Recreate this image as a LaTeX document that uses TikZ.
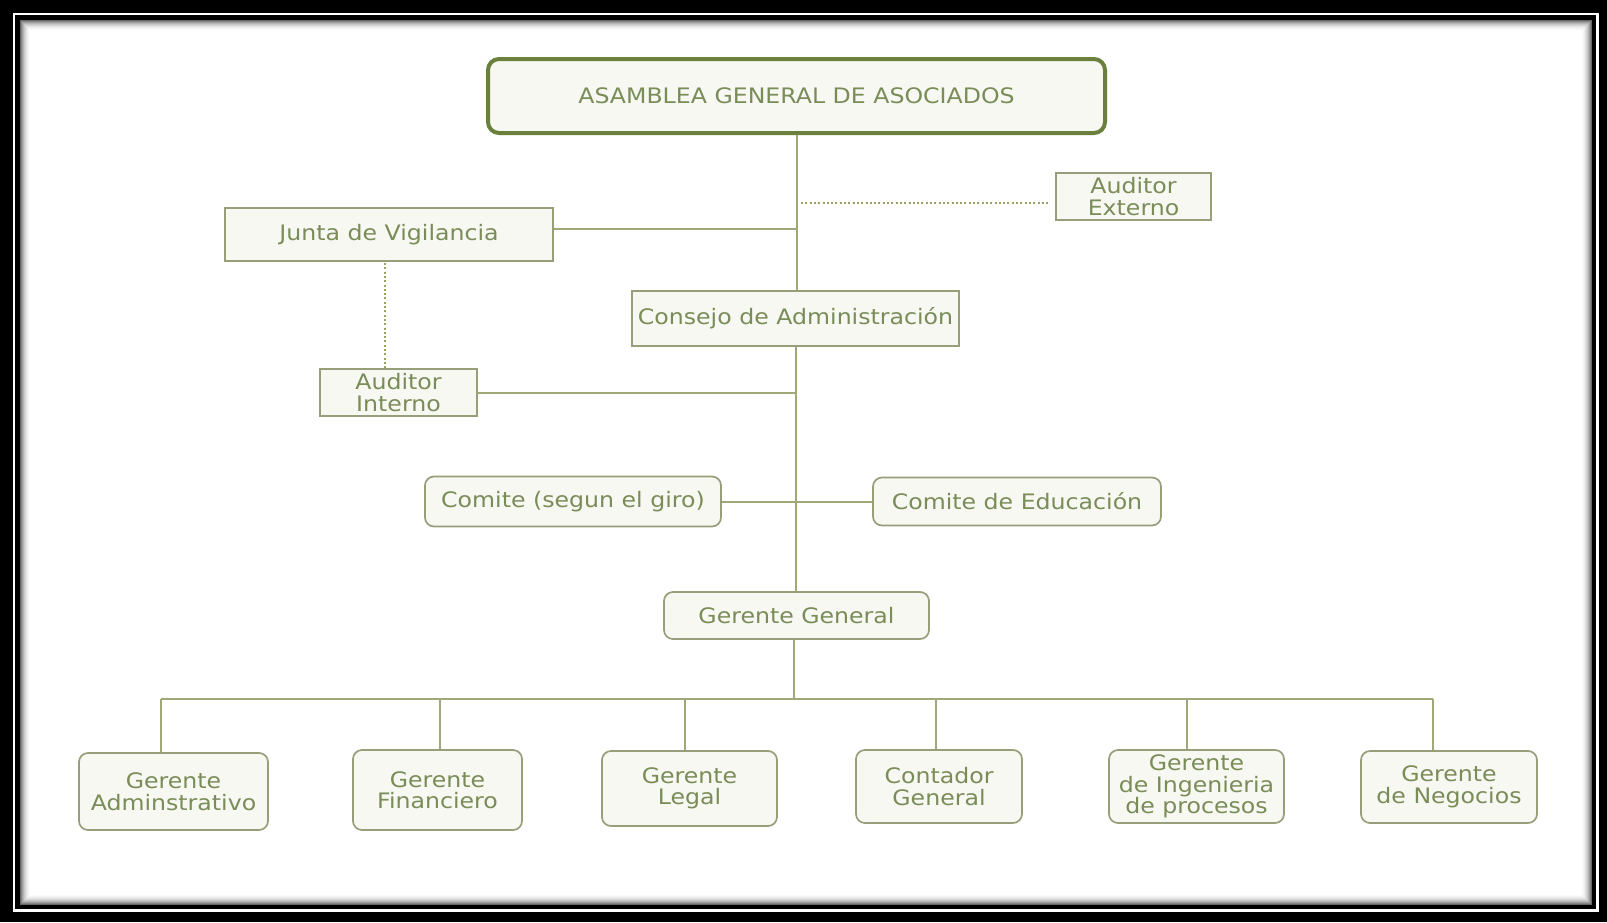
\documentclass[tikz,border=0pt]{standalone}
\usepackage{fontspec}
\setmainfont{DejaVu Sans}[FakeStretch=1.11]
\definecolor{txt}{RGB}{122,140,88}
\definecolor{boxline}{RGB}{150,158,122}
\definecolor{topline}{RGB}{108,128,62}
\definecolor{boxfill}{RGB}{246,248,241}
\definecolor{linkc}{RGB}{160,168,122}
\definecolor{dotc}{RGB}{150,165,100}
\begin{document}
\begin{tikzpicture}[x=1pt,y=-1pt,
  every node/.style={font=\fontsize{21.3}{21.5}\selectfont, text=txt, align=center, inner sep=0pt},
  sq/.style={draw=boxline, line width=1.7pt, fill=boxfill},
  rd/.style={sq, rounded corners=9pt},
  topbox/.style={draw=topline, line width=4pt, fill=boxfill, rounded corners=11pt},
  link/.style={draw=linkc, line width=2pt},
  dots/.style={draw=dotc, line width=2.4pt, dash pattern=on 2pt off 2.3pt}]
\useasboundingbox (0,0) rectangle (1607,922);

% framed page: black band, thin white rule, black rule, shaded inner edge
\fill[black] (0,0) rectangle (1607,922);
\draw[white, line width=2.6pt] (13.8,13.8) rectangle (1597.6,910.3);
\fill[white] (19.5,20) rectangle (1592,904.5);
\foreach \i/\c in {0/60,1/48,2/38,3/29,4/22,5/16,6/11,7/7,8/4,9/2}
  \draw[black!\c, line width=1pt] (20+\i,20.5+\i) rectangle (1591.5-\i,904-\i);

% upper levels
\node[topbox, minimum width=617, minimum height=74] (asm) at (796.5,96) {ASAMBLEA GENERAL DE ASOCIADOS};
\node[sq, minimum width=155, minimum height=47] (aext) at (1133.5,196.5) {Auditor\\Externo};
\node[sq, minimum width=328, minimum height=53] (junta) at (389,234.5) {Junta de Vigilancia};
\node[sq, minimum width=327, minimum height=55] (consejo) at (795.5,318.5) {Consejo de Administración};
\node[sq, minimum width=157, minimum height=47] (aint) at (398.5,392.5) {Auditor\\Interno};
\node[rd, minimum width=296, minimum height=50] (cgiro) at (573,501.5) {Comite (segun el giro)};
\node[rd, minimum width=288, minimum height=48] (cedu) at (1017,501.5) {Comite de Educación};
\node[rd, minimum width=265, minimum height=47] (gg) at (796.5,615.5) {Gerente General};

% managers
\node[rd, minimum width=189, minimum height=77] (m1) at (173.5,791.5) {Gerente\\Adminstrativo};
\node[rd, minimum width=169, minimum height=80] (m2) at (437.5,790) {Gerente\\Financiero};
\node[rd, minimum width=175, minimum height=75] (m3) at (689.5,788.5) {Gerente\\Legal};
\node[rd, minimum width=166, minimum height=73] (m4) at (939,786.5) {Contador\\General};
\node[rd, minimum width=175, minimum height=73] (m5) at (1196.5,786.5) {Gerente\\de Ingenieria\\de procesos};
\node[rd, minimum width=176, minimum height=72] (m6) at (1449,787) {Gerente\\de Negocios};

% trunk
\draw[link] (asm.south) -- (asm.south |- consejo.north);
\draw[link] (consejo.south) -- (consejo.south |- gg.north);

% side branches
\coordinate (tj) at (797,228.6);
\draw[link] (junta.east |- tj) -- (tj);
\coordinate (te) at (801,203);
\draw[dots] (te) -- ([xshift=-5pt]te -| aext.west);
\coordinate (jv) at (385,263);
\draw[dots] (jv) -- ([yshift=-2pt]jv |- aint.north);
\coordinate (ti) at (797,392.6);
\draw[link] (aint.east |- ti) -- (ti);
\draw[link] (cgiro.east) -- (cedu.west);

% bus to managers
\coordinate (bus) at (794,699);
\draw[link] (gg.south -| bus) -- (bus);
\coordinate (b1) at (161,699);
\coordinate (b2) at (440,699);
\coordinate (b3) at (685,699);
\coordinate (b4) at (936,699);
\coordinate (b5) at (1187,699);
\coordinate (b6) at (1433,699);
\draw[link] (b1) -- (b6);
\foreach \k in {1,...,6}
  \draw[link] (b\k) -- (b\k |- m\k.north);
\end{tikzpicture}
\end{document}
